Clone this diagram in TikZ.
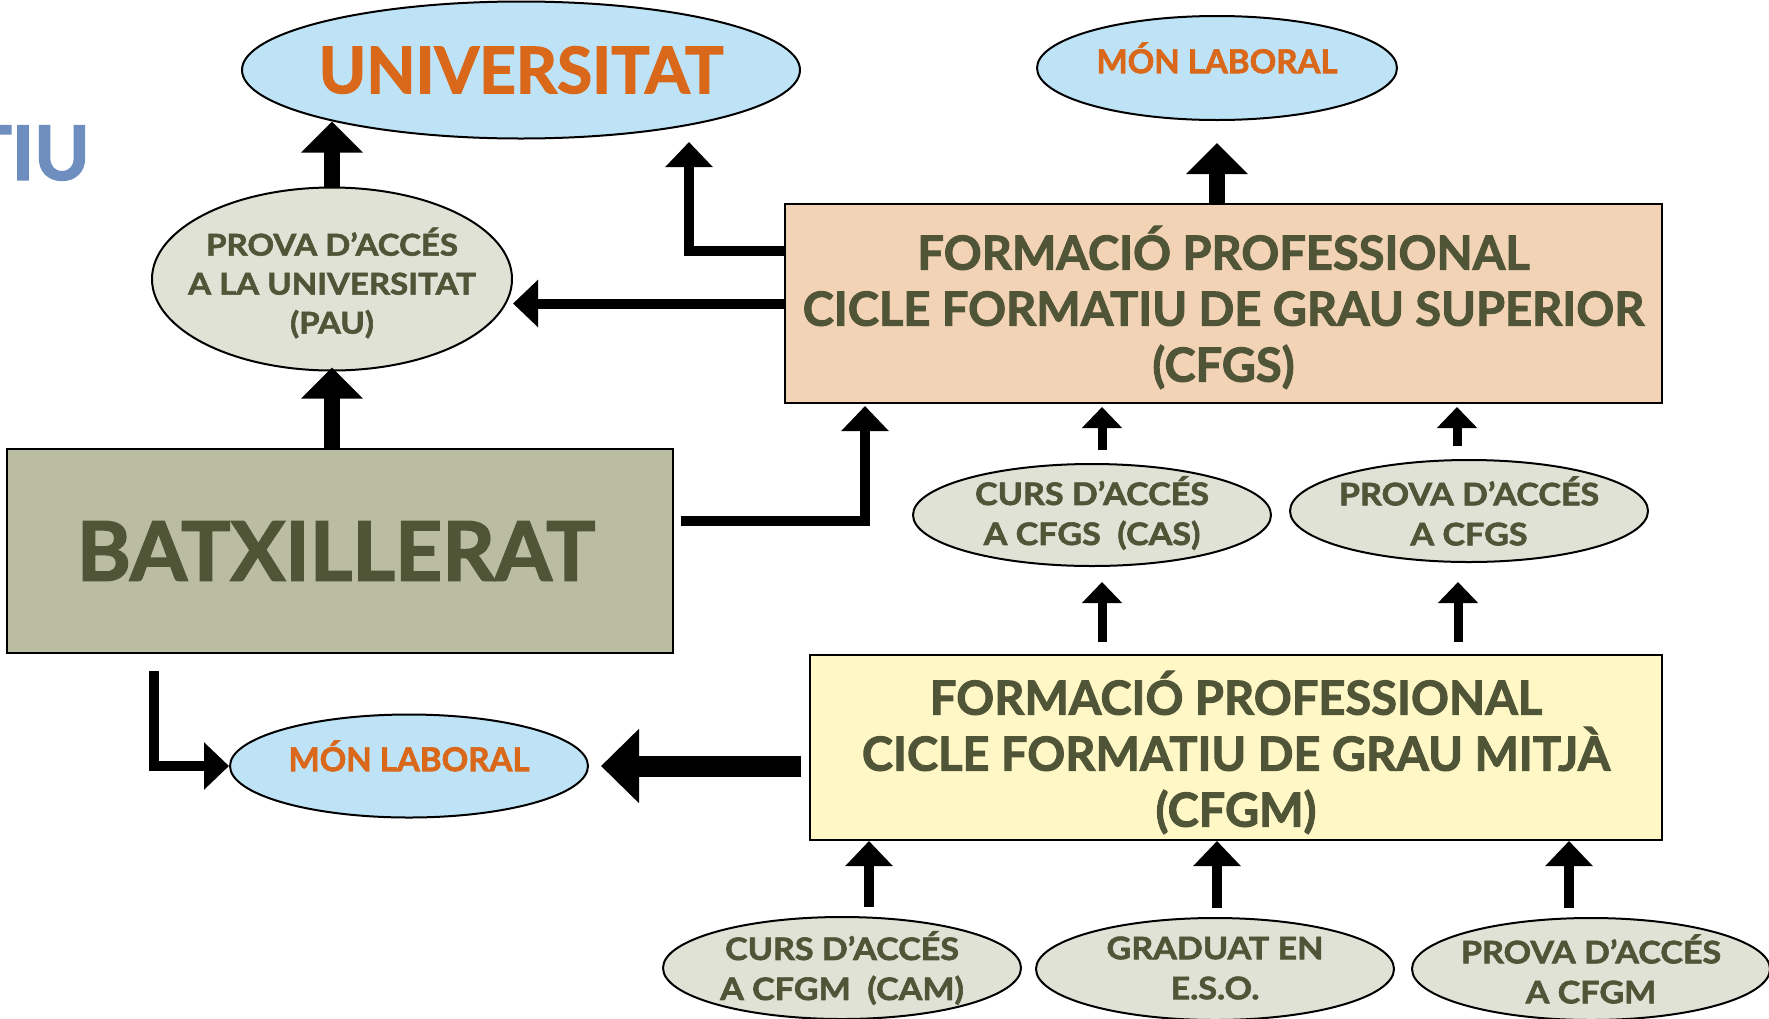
\documentclass[tikz,border=0pt]{standalone}
\usepackage{fontspec}
\setmainfont{Lato}[BoldFeatures={FakeBold=2}]
\newfontfamily\widef{Lato}[FakeStretch=1.1, BoldFeatures={FakeBold=2}]
\usetikzlibrary{arrows.meta,shapes.geometric}
\definecolor{lblue}{HTML}{BEE3F6}
\definecolor{lgray}{HTML}{E1E2D6}
\definecolor{olivetxt}{HTML}{515538}
\definecolor{orng}{HTML}{D9681A}
\definecolor{peach}{HTML}{F2D3B5}
\definecolor{lyellow}{HTML}{FFF8C6}
\definecolor{batxfill}{HTML}{BABDA1}
\definecolor{tiublue}{HTML}{6D8EBE}
\newcommand\myfs[2]{\fontsize{#1}{#2}\selectfont}
\tikzset{
  ell/.style={ellipse, draw, line width=2pt, inner sep=0pt},
  bluell/.style={ell, fill=lblue},
  grayell/.style={ell, fill=lgray, minimum width=358pt, minimum height=102pt},
  lbl/.style={align=center, text=olivetxt, inner sep=0pt, font=\widef\bfseries\myfs{31}{40}},
  orlbl/.style={align=center, text=orng, inner sep=0pt, font=\bfseries\myfs{33}{40}, yshift=10pt},
  boxn/.style={rectangle, draw, line width=2pt, inner sep=0pt},
  boxlbl/.style={align=center, text=olivetxt, inner sep=0pt, font=\bfseries\myfs{47}{56}},
  a1/.style={line width=16pt, -{Triangle[width=60pt,length=31pt]}},
  a2/.style={line width=10pt, -{Triangle[width=46pt,length=25pt]}},
  a3/.style={line width=9pt, -{Triangle[width=39pt,length=21pt]}},
  a4/.style={line width=21pt, -{Triangle[width=72pt,length=38pt]}},
}
\begin{document}
\begin{tikzpicture}[x=1pt,y=-1pt]
\useasboundingbox (0,0) rectangle (1769,1018);

% partial title text at left edge
\node[anchor=east, inner sep=0pt, text=tiublue, font=\bfseries\myfs{75}{80}] (tiu) at (90,153) {TIU};

% nodes
\node[bluell, minimum width=558pt, minimum height=137pt,
      label={[align=center, text=orng, inner sep=0pt, font=\bfseries\myfs{64}{70}]center:UNIVERSITAT}] (univ) at (521,70) {};
\node[bluell, minimum width=360pt, minimum height=104pt,
      label={[orlbl]center:MÓN LABORAL}] (monlab) at (1217,68) {};
\node[ell, fill=lgray, minimum width=360pt, minimum height=183pt,
      label={[lbl, font=\widef\bfseries\myfs{30}{39}, yshift=-4pt]center:PROVA D’ACCÉS\\A LA UNIVERSITAT\\(PAU)}] (pau) at (332,279) {};

\node[boxn, fill=peach, minimum width=877pt, minimum height=199pt,
      label={[boxlbl, yshift=-4pt]center:FORMACIÓ PROFESSIONAL\\CICLE FORMATIU DE GRAU SUPERIOR\\(CFGS)}] (cfgs) at (1223.5,303.5) {};
\node[boxn, fill=batxfill, minimum width=666pt, minimum height=204pt,
      label={[text=olivetxt, inner sep=0pt, font=\bfseries\myfs{82}{90}, xshift=-4pt]center:BATXILLERAT}] (batx) at (340,551) {};
\node[bluell, minimum width=358pt, minimum height=103pt,
      label={[orlbl]center:MÓN LABORAL}] (monlab2) at (409,766) {};

\node[grayell, label={[lbl, yshift=2pt]center:CURS D’ACCÉS\\A CFGS~~(CAS)}] (cas) at (1092,515) {};
\node[grayell, label={[lbl]center:PROVA D’ACCÉS\\A CFGS}] (pcfgs) at (1469,511) {};

\node[boxn, fill=lyellow, minimum width=852pt, minimum height=185pt,
      label={[boxlbl, yshift=-5pt]center:FORMACIÓ PROFESSIONAL\\CICLE FORMATIU DE GRAU MITJÀ\\(CFGM)}] (cfgm) at (1236,747.5) {};

\node[grayell, label={[lbl]center:CURS D’ACCÉS\\A CFGM~~(CAM)}] (cam) at (842,968) {};
\node[grayell, label={[lbl, yshift=1pt]center:GRADUAT EN\\E.S.O.}] (eso) at (1215,969) {};
\node[grayell, label={[lbl]center:PROVA D’ACCÉS\\A CFGM}] (pcfgm) at (1591,969) {};

% connectors
\draw[a1] (pau.north) -- ([yshift=18pt]pau.north |- univ.south);
\draw[a1] (pau.south |- batx.north) -- ([yshift=4pt]pau.south);
\draw[a1] (monlab.south |- cfgs.north) -- ([yshift=-22pt]monlab.south);

\draw[a2] (cfgs.west) -- (cfgs.west -| pau.east);
\coordinate (univtip) at (689,142);
\draw[a2] ([yshift=53pt]cfgs.west) -| (univtip);

\draw[a2] ([shift={(7pt,30pt)}]batx.east) -| ([shift={(81pt,-2pt)}]cfgs.south west);
\draw[a2] ([shift={(148pt,-17pt)}]batx.south west) |- (monlab2.west);

\draw[a4] ([xshift=-8pt]cfgm.west |- monlab2.east) -- ([xshift=12pt]monlab2.east);

\draw[a3] ([shift={(10pt,13pt)}]cas.north) -- ([shift={(10pt,-3pt)}]cas.north |- cfgs.south);
\draw[a3] ([shift={(-12pt,13pt)}]pcfgs.north) -- ([shift={(-12pt,-3pt)}]pcfgs.north |- cfgs.south);
\draw[a3] ([shift={(10pt,12pt)}]cas.south |- cfgm.north) -- ([shift={(10pt,-15pt)}]cas.south);
\draw[a3] ([shift={(-11pt,12pt)}]pcfgs.south |- cfgm.north) -- ([shift={(-11pt,-19pt)}]pcfgs.south);

\draw[a2] ([shift={(27pt,9pt)}]cam.north) -- ([xshift=27pt]cam.north |- cfgm.south);
\draw[a2] ([shift={(2pt,9pt)}]eso.north) -- ([xshift=2pt]eso.north |- cfgm.south);
\draw[a2] ([shift={(-22pt,9pt)}]pcfgm.north) -- ([xshift=-22pt]pcfgm.north |- cfgm.south);
\end{tikzpicture}
\end{document}
